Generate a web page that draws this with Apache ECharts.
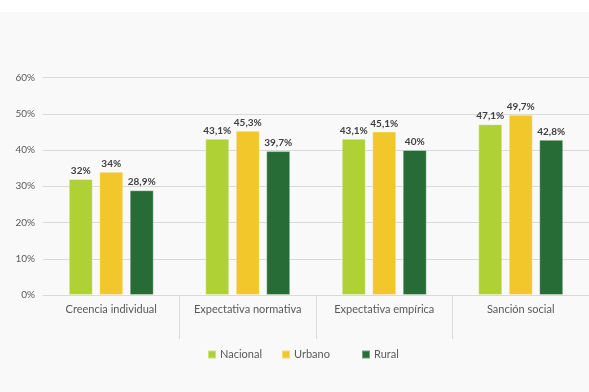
<!DOCTYPE html>
<html><head><meta charset="utf-8">
<script src="https://cdn.jsdelivr.net/npm/echarts@6/dist/echarts.min.js"></script>
<style>
html,body{margin:0;padding:0;}
body{width:589px;height:392px;background:linear-gradient(to bottom,#ffffff 0,#ffffff 12px,#f9f9f9 12px,#f9f9f9 100%);}
#c{width:589px;height:392px;}
</style></head>
<body><div id="c"></div>
<script>
const categories = ['Creencia individual','Expectativa normativa','Expectativa empírica','Sanción social'];
const nacional = [32, 43.1, 43.1, 47.1];
const urbano = [34, 45.3, 45.1, 49.7];
const rural = [28.9, 39.7, 40, 42.8];
const seriesNames = ['Nacional','Urbano','Rural'];
const colors = ['#afd136','#f1c72b','#276b36'];
const FONT = 'Lato, "Open Sans", sans-serif';

function fmt(v){ return String(v).replace('.', ',') + '%'; }

const chart = echarts.init(document.getElementById('c'), null, {renderer:'canvas'});
const mk = (name, data, color) => ({
  name, type:'bar', data, barWidth:24, barGap:'27%',
  itemStyle:{color, borderColor:'rgba(255,255,255,0.35)', borderWidth:1},
  label:{show:true, position:'top', distance:3, formatter:p=>fmt(p.value),
    color:'#404040', fontWeight:'bold', fontSize:10, fontFamily:FONT},
  emphasis:{disabled:true}
});
const legendPos = [202, 276, 356];
chart.setOption({
  animation:false,
  backgroundColor:'transparent',
  color: colors,
  grid:{left:43, right:-6, top:77.5, bottom:97, containLabel:false},
  legend: seriesNames.map((n,i)=>({
    data:[n], left:legendPos[i], top:344, itemWidth:8, itemHeight:8, icon:'rect',
    textStyle:{color:'#595959', fontSize:11, fontFamily:FONT, padding:[0,0,0,-1]}, selectedMode:false
  })),
  xAxis:{type:'category', data:categories,
    axisLine:{lineStyle:{color:'#d9d9d9', width:1}},
    axisTick:{show:true, length:44, interval:(i)=>i!==0, lineStyle:{color:'#d9d9d9'}},
    axisLabel:{color:'#595959', fontSize:11, fontFamily:FONT, margin:9, interval:0}
  },
  yAxis:{type:'value', min:0, max:60, interval:10,
    axisLine:{show:false}, axisTick:{show:false},
    splitLine:{lineStyle:{color:'#d9d9d9', width:1}},
    axisLabel:{formatter:v=>v+'%', color:'#595959', fontSize:10, fontFamily:FONT, margin:8}
  },
  series:[mk('Nacional', nacional, colors[0]), mk('Urbano', urbano, colors[1]), mk('Rural', rural, colors[2])]
});
</script></body></html>
